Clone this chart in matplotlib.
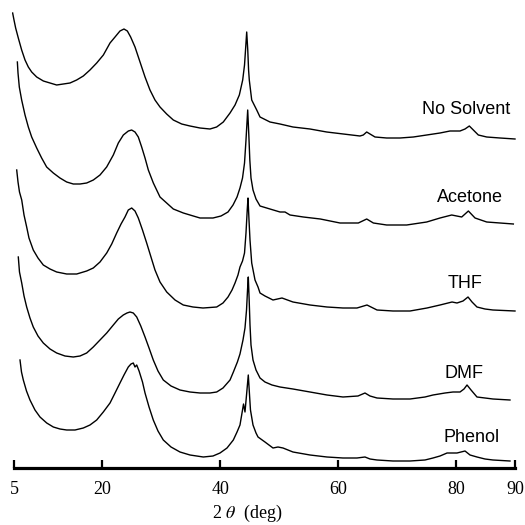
import matplotlib
matplotlib.use("Agg")
import matplotlib.pyplot as plt

# 2-theta (deg) and stacked intensity (a.u.)
TTH_NS = [4.77, 5.00, 5.28, 5.73, 6.30, 6.87, 7.43, 8.00, 8.85, 9.98, 11.11, 12.24,
          13.37, 14.50, 15.63, 16.76, 17.89, 19.03, 20.16, 21.29, 22.14, 22.98, 23.66,
          24.23, 24.79, 25.53, 26.38, 27.23, 28.07, 28.92, 29.77, 30.90, 32.03, 33.45,
          34.86, 36.56, 38.25, 39.38, 40.51, 41.65, 42.50, 43.23, 43.80, 44.11, 44.28,
          44.48, 44.66, 44.80, 44.92, 45.33, 46.18, 46.74, 48.43, 50.13, 52.33, 55.22,
          58.05, 60.87, 63.70, 64.26, 64.84, 65.40, 66.25, 68.23, 70.49, 72.75, 75.02,
          77.28, 78.97, 80.67, 81.52, 82.25, 82.93, 83.78, 85.20, 87.46, 90.0]
INT_NS = [452, 445, 437, 427, 415, 405, 398, 393, 388, 384, 382, 380,
          381, 382, 385, 389, 395, 402, 410, 422, 428, 434, 436,
          434, 428, 418, 403, 388, 375, 365, 358, 351, 345, 341,
          339, 337, 336, 338, 343, 352, 360, 370, 385, 400, 415,
          433, 415, 395, 385, 365, 355, 348, 343, 341, 338, 336,
          333, 331, 329, 330, 333, 331, 328, 327, 327, 328, 330,
          332, 334, 334, 336, 339, 335, 330, 328, 327, 326]

TTH_ACE = [5.57, 5.68, 5.90, 6.30, 6.87, 7.43, 8.00, 8.85, 9.69, 10.54, 11.67, 12.80,
           13.94, 15.06, 16.20, 17.33, 18.46, 19.59, 20.72, 21.85, 22.70, 23.55, 24.40,
           24.96, 25.53, 26.09, 26.66, 27.23, 27.79, 28.64, 29.77, 30.90, 32.03, 33.73,
           35.42, 36.56, 38.76, 40.12, 41.31, 42.16, 42.84, 43.34, 43.77, 44.11, 44.36,
           44.65, 44.84, 45.01, 45.21, 45.55, 46.06, 46.74, 48.43, 50.13, 50.98, 51.83,
           54.09, 56.97, 60.31, 63.42, 64.84, 65.97, 68.23, 71.62, 75.02, 77.28, 79.26,
           80.96, 82.09, 83.22, 85.20, 87.46, 89.72]
INT_ACE = [403, 392, 378, 365, 350, 338, 328, 317, 307, 298, 292, 287,
           283, 281, 281, 282, 285, 290, 298, 310, 322, 330, 334,
           335, 333, 328, 318, 307, 295, 282, 268, 262, 256, 252,
           249, 247, 247, 249, 253, 260, 268, 277, 287, 302, 325,
           355, 330, 305, 287, 275, 266, 259, 256, 253, 253, 250,
           248, 246, 242, 242, 246, 242, 240, 240, 243, 247, 250,
           248, 254, 247, 243, 242, 241]

TTH_THF = [5.46, 5.68, 5.93, 6.31, 6.70, 7.15, 7.54, 8.27, 9.07, 9.97, 11.11, 12.24,
           13.94, 15.64, 17.33, 18.45, 19.59, 20.73, 21.58, 22.42, 23.16, 23.83, 24.39,
           24.97, 25.53, 26.09, 26.80, 27.51, 28.24, 28.92, 29.77, 30.91, 32.32, 33.72,
           35.37, 37.07, 39.39, 40.46, 41.31, 41.99, 42.50, 43.00, 43.34, 43.77, 44.11,
           44.36, 44.57, 44.70, 44.87, 45.04, 45.33, 45.89, 46.40, 46.74, 47.58, 48.94,
           50.47, 52.33, 55.22, 58.10, 60.82, 63.19, 64.89, 66.59, 69.30, 72.19, 75.07,
           77.28, 79.32, 80.16, 81.18, 82.03, 82.71, 83.55, 84.91, 86.26, 90.0]
INT_THF = [295, 283, 273, 265, 250, 238, 227, 215, 207, 200, 196, 193,
           191, 191, 194, 197, 203, 212, 221, 232, 241, 248, 255,
           257, 254, 247, 235, 222, 208, 195, 183, 173, 165, 160,
           158, 157, 158, 162, 168, 175, 182, 190, 198, 204, 212,
           232, 255, 267, 245, 225, 202, 185, 178, 172, 169, 165,
           167, 163, 160, 158, 157, 157, 160, 155, 154, 154, 157,
           160, 163, 162, 164, 168, 163, 158, 156, 155, 154]

TTH_DMF = [5.73, 5.93, 6.31, 6.70, 7.15, 7.71, 8.27, 9.07, 9.97, 11.11, 12.24, 13.65,
           15.06, 16.20, 17.33, 18.45, 19.59, 20.73, 21.85, 22.70, 23.54, 24.17, 24.68,
           25.24, 25.82, 26.51, 27.23, 27.91, 28.63, 29.43, 30.33, 31.64, 33.16, 34.86,
           36.56, 38.25, 39.39, 40.46, 41.65, 42.22, 42.90, 43.34, 43.85, 44.19, 44.45,
           44.62, 44.75, 44.90, 45.04, 45.21, 45.55, 46.06, 46.74, 47.58, 48.77, 50.13,
           52.33, 55.22, 58.10, 60.82, 63.36, 64.55, 65.40, 66.59, 69.30, 72.19, 74.73,
           76.09, 78.13, 79.48, 80.67, 81.35, 81.86, 82.54, 83.55, 84.91, 86.26, 89.15]
INT_DMF = [208, 193, 182, 169, 158, 147, 138, 129, 122, 116, 112, 109,
           108, 109, 112, 118, 125, 132, 140, 146, 150, 152, 153,
           152, 148, 139, 128, 117, 105, 94, 85, 79, 75, 73,
           72, 72, 73, 77, 85, 93, 103, 111, 125, 137, 155,
           175, 188, 165, 140, 120, 105, 95, 87, 83, 80, 78,
           76, 73, 70, 68, 69, 72, 69, 67, 66, 66, 68,
           70, 72, 73, 73, 76, 80, 75, 68, 67, 66, 65]

TTH_PHE = [6.02, 6.27, 6.58, 7.12, 7.71, 8.56, 9.41, 10.55, 11.67, 12.80, 13.94, 15.35,
           16.76, 17.89, 19.03, 20.15, 21.29, 22.14, 22.98, 23.66, 24.39, 24.85, 25.24,
           25.53, 25.82, 26.22, 26.80, 27.23, 27.91, 28.63, 29.43, 30.33, 31.64, 33.16,
           34.86, 37.12, 38.76, 39.95, 41.14, 42.21, 42.84, 43.34, 43.77, 43.94, 44.19,
           44.45, 44.75, 44.96, 45.12, 45.55, 46.06, 46.40, 47.58, 48.94, 49.79, 50.64,
           52.33, 55.22, 58.10, 60.82, 63.19, 64.55, 65.40, 66.59, 69.30, 72.19, 74.73,
           76.09, 77.28, 78.47, 80.16, 81.52, 82.37, 83.55, 84.91, 86.26, 89.15]
INT_PHE = [105, 93, 85, 74, 65, 55, 48, 42, 38, 36, 35, 35,
           37, 40, 45, 53, 62, 72, 82, 90, 98, 101, 102,
           98, 100, 94, 83, 72, 58, 45, 34, 25, 18, 13,
           10, 8, 9, 12, 17, 25, 33, 40, 55, 61, 53,
           70, 90, 70, 55, 40, 32, 28, 23, 17, 18, 17,
           13, 10, 8, 7, 7, 8, 6, 5, 4, 4, 5,
           7, 9, 12, 12, 14, 10, 8, 6, 5, 4]

SAMPLES = ["No Solvent", "Acetone", "THF", "DMF", "Phenol"]
LABEL_POS = [(74.2, 355), (76.8, 268), (78.5, 182), (78.0, 92), (77.8, 28)]
XTICKS = [5, 20, 40, 60, 80, 90]

plt.rcParams["mathtext.fontset"] = "stix"

fig = plt.figure(figsize=(5.25, 5.25), dpi=100)
ax = fig.add_axes([12 / 525, 57 / 525, 505 / 525, 468 / 525])

traces = [(TTH_NS, INT_NS), (TTH_ACE, INT_ACE), (TTH_THF, INT_THF),
          (TTH_DMF, INT_DMF), (TTH_PHE, INT_PHE)]
for (tth, inten), name, pos in zip(traces, SAMPLES, LABEL_POS):
    ax.plot(tth, inten, color="black", lw=1.0)
    ax.text(pos[0], pos[1], name, fontsize=13, family="Liberation Sans",
            ha="left", va="center")

ax.set_xlim(5 - 2 / 5.894, 90 + 2 / 5.894)
ax.set_ylim(-3, 465)

for side in ["top", "right", "left"]:
    ax.spines[side].set_visible(False)
ax.spines["bottom"].set_linewidth(2.3)
ax.spines["bottom"].set_bounds(5, 90)
ax.set_yticks([])
ax.set_xticks(XTICKS)
ax.set_xticklabels([str(t) for t in XTICKS], family="Liberation Serif", fontsize=13)
ax.tick_params(axis="x", direction="in", length=6, width=1.6, pad=9)

fig.text(247 / 525, 1 - 513 / 525, r"2 $\theta$  (deg)", family="Liberation Serif",
         fontsize=13, ha="center", va="center")

fig.savefig("out.png", dpi=100, facecolor="white")
